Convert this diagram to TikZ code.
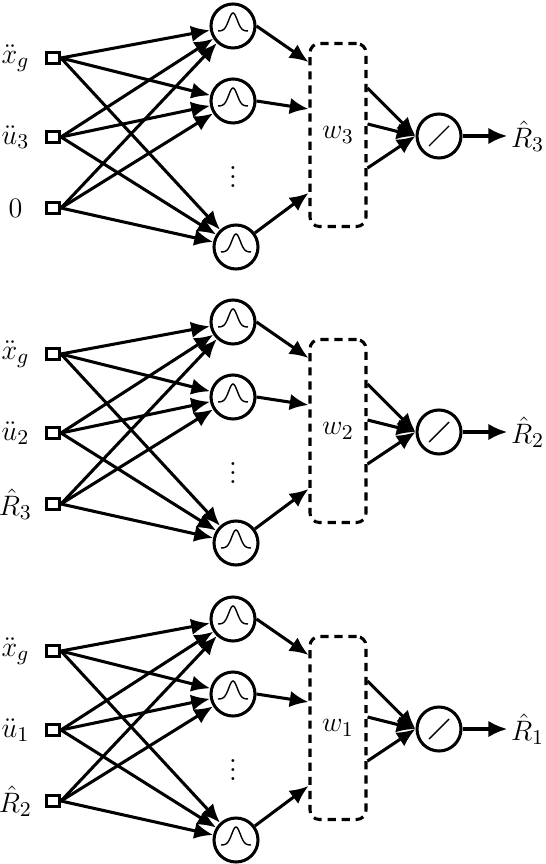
\documentclass[tikz,border=0pt]{standalone}
\usetikzlibrary{positioning,arrows.meta}

\begin{document}
\begin{tikzpicture}[x=0.015cm, y=-0.015cm, line width=1.3pt,
  font=\fontsize{13}{15}\selectfont,
  inp/.style={draw, rectangle, minimum width=0.2cm, minimum height=0.17cm, inner sep=0pt, line width=1.1pt},
  lbl/.style={inner sep=0pt, minimum width=0.56cm},
  outp/.style={inner sep=1pt},
  gauss/.style={draw, circle, minimum size=0.66cm, inner sep=0pt,
    path picture={\draw[line width=0.6pt, shift={(path picture bounding box.center)}]
      plot[domain=-15:15, samples=40, smooth] (\x, {5-18*exp(-(\x/6)*(\x/6))});}},
  linear/.style={draw, circle, minimum size=0.66cm, inner sep=0pt,
    path picture={\draw[line width=0.6pt, shift={(path picture bounding box.center)}]
      (-10,10) -- (10,-10);}},
  wbox/.style={draw, dash pattern=on 3.5pt off 2.5pt, rounded corners=4pt,
    minimum width=0.84cm, minimum height=2.745cm, inner sep=0pt},
  arr/.style={-{Latex[length=8pt, width=7pt]}}]
\useasboundingbox (0,0) rectangle (545,864);

\foreach \k/\base/\prev in {3/58/0, 2/354/{\hat{R}_3}, 1/651/{\hat{R}_2}} {
\begin{scope}[shift={(0,\base)}]
  % inputs
  \node (X\k) [inp] at (53,0) {};
  \node (U\k) [inp] at (53,79) {};
  \node (P\k) [inp] at (53,150) {};
  \node (LX\k) [lbl, left=4pt of X\k] {$\ddot{x}_g$};
  \node (LU\k) [lbl, left=4pt of U\k] {$\ddot{u}_\k$};
  \node (LP\k) [lbl, left=4pt of P\k] {$\prev$};
  % hidden layer
  \node (GA\k) [gauss] at (233,-32) {};
  \node (GB\k) [gauss] at (233,43) {};
  \node (GC\k) [gauss] at (236,189) {};
  \node (D\k) at (233,112) {$\vdots$};
  % weights and output
  \node (W\k) [wbox] at (338,77) {$w_\k$};
  \node (L\k) [linear] at (439,78) {};
  \node (O\k) [outp, right=0.67cm of L\k] {$\hat{R}_\k$};

  \foreach \i in {X\k,U\k,P\k} {
    \foreach \j in {GA\k,GB\k,GC\k} {
      \draw[arr] (\i.east) -- (\j);
    }
  }
  \draw[arr] (GA\k.east) -- (W\k.west |- 0,4);
  \draw[arr] (GB\k.east) -- (W\k.west |- 0,51);
  \draw[arr] (GC\k) -- (W\k.west |- 0,135);
  \draw[arr] (W\k.east |- 0,30) -- (L\k.west);
  \draw[arr] (W\k.east |- 0,66) -- (L\k.west);
  \draw[arr] (W\k.east |- 0,110) -- (L\k.west);
  \draw[arr] (L\k) -- (O\k);
\end{scope}
}
\end{tikzpicture}
\end{document}
